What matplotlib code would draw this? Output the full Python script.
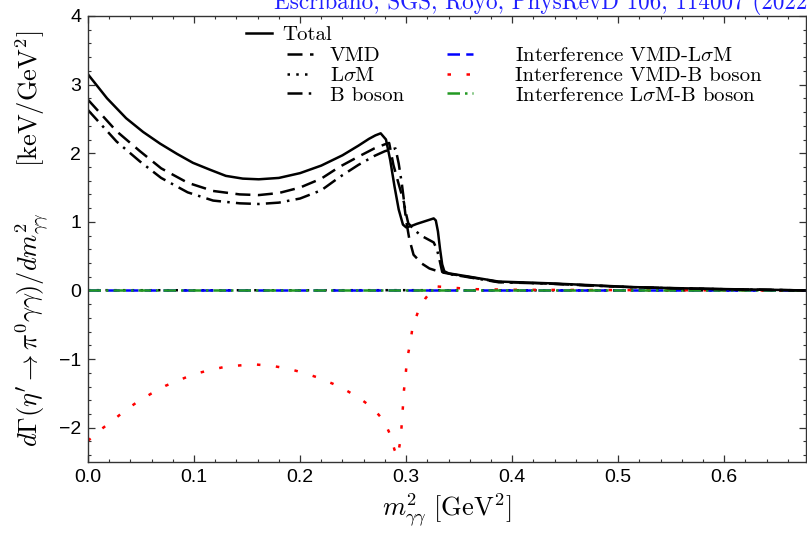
import matplotlib
matplotlib.use('Agg')
import matplotlib.pyplot as plt

plt.rcParams['font.family'] = 'Liberation Sans'
plt.rcParams['mathtext.fontset'] = 'cm'
plt.rcParams['axes.unicode_minus'] = True

# --- spectra dGamma/dm^2 [keV/GeV^2] vs m^2_gg [GeV^2] ---
x_total = [0.0, 0.018, 0.036, 0.052, 0.068, 0.084, 0.099, 0.115, 0.130, 0.146, 0.161,
           0.18, 0.20, 0.22, 0.24, 0.255, 0.265, 0.271, 0.276, 0.281, 0.285, 0.289,
           0.293, 0.297, 0.300, 0.305, 0.310, 0.316, 0.322, 0.326, 0.328, 0.330,
           0.332, 0.334, 0.336, 0.340, 0.356, 0.387, 0.434, 0.47, 0.512, 0.55,
           0.60, 0.65, 0.677]
y_total = [3.15, 2.80, 2.51, 2.31, 2.14, 1.99, 1.86, 1.76, 1.67, 1.63, 1.62,
           1.64, 1.71, 1.82, 1.97, 2.11, 2.21, 2.26, 2.29, 2.20, 1.90, 1.52,
           1.18, 0.96, 0.92, 0.94, 0.97, 1.00, 1.03, 1.05, 1.02, 0.86,
           0.60, 0.38, 0.28, 0.25, 0.21, 0.13, 0.105, 0.08, 0.05, 0.035,
           0.02, 0.008, 0.0]

x_vmd = [0.0, 0.027, 0.049, 0.069, 0.094, 0.118, 0.143, 0.161, 0.18, 0.20, 0.22,
         0.237, 0.255, 0.27, 0.28, 0.284, 0.288, 0.293, 0.298, 0.300, 0.303,
         0.307, 0.315, 0.322, 0.332, 0.340, 0.356, 0.387, 0.434, 0.47, 0.512,
         0.55, 0.60, 0.65, 0.677]
y_vmd = [2.78, 2.32, 2.03, 1.78, 1.57, 1.45, 1.40, 1.39, 1.42, 1.50, 1.63,
         1.80, 1.95, 2.07, 2.13, 2.15, 1.83, 1.55, 1.28, 1.02, 0.75,
         0.52, 0.39, 0.32, 0.27, 0.245, 0.205, 0.125, 0.10, 0.075, 0.048,
         0.033, 0.018, 0.007, 0.0]

x_b = [0.0, 0.027, 0.049, 0.069, 0.094, 0.118, 0.143, 0.161, 0.18, 0.20, 0.22,
       0.237, 0.255, 0.27, 0.28, 0.290, 0.293, 0.296, 0.299, 0.302, 0.308,
       0.314, 0.320, 0.326, 0.329, 0.331, 0.334, 0.340, 0.356, 0.387, 0.434,
       0.47, 0.512, 0.55, 0.60, 0.65, 0.677]
y_b = [2.63, 2.17, 1.88, 1.64, 1.43, 1.31, 1.27, 1.26, 1.28, 1.34, 1.46,
       1.65, 1.83, 1.96, 2.03, 2.07, 1.85, 1.55, 1.18, 0.98, 0.88,
       0.80, 0.75, 0.70, 0.60, 0.48, 0.27, 0.24, 0.20, 0.12, 0.10,
       0.075, 0.048, 0.033, 0.018, 0.007, 0.0]

x_lsm = [0.0, 0.1, 0.2, 0.3, 0.4, 0.5, 0.6, 0.677]
y_lsm = [0.004, 0.003, 0.003, 0.004, 0.002, 0.001, 0.001, 0.0]

x_int_vl = [0.0, 0.1, 0.2, 0.3, 0.4, 0.5, 0.6, 0.677]
y_int_vl = [0.0, 0.0, 0.0, 0.0, 0.0, 0.0, 0.0, 0.0]

x_int_vb = [0.0, 0.011, 0.023, 0.035, 0.047, 0.060, 0.073, 0.087, 0.100, 0.115,
            0.130, 0.145, 0.159, 0.174, 0.189, 0.203, 0.217, 0.231, 0.244, 0.257,
            0.269, 0.279, 0.285, 0.289, 0.292, 0.295, 0.296, 0.297, 0.298, 0.2995,
            0.301, 0.304, 0.306, 0.311, 0.318, 0.327, 0.337, 0.36, 0.40, 0.5,
            0.6, 0.677]
y_int_vb = [-2.19, -2.04, -1.90, -1.75, -1.62, -1.50, -1.39, -1.30, -1.22, -1.16,
            -1.11, -1.09, -1.08, -1.10, -1.14, -1.20, -1.27, -1.36, -1.46, -1.58,
            -1.72, -1.90, -2.10, -2.32, -2.42, -2.15, -1.91, -1.69, -1.45, -1.23,
            -0.99, -0.76, -0.54, -0.32, -0.12, 0.06, 0.05, 0.02, 0.01, 0.005,
            0.002, 0.0]

x_int_lb = [0.0, 0.1, 0.2, 0.3, 0.4, 0.5, 0.6, 0.677]
y_int_lb = [0.0, 0.0, 0.0, 0.0, 0.0, 0.0, 0.0, 0.0]

fig = plt.figure(figsize=(8.07, 5.33), dpi=100)
ax = fig.add_axes([0.109, 0.1332, 0.8897, 0.8368])

lw = 1.8
l_lsm, = ax.plot(x_lsm, y_lsm, color='black', lw=lw, linestyle=(0, (1, 2.5)), label=r'L$\sigma$M')
l_vl, = ax.plot(x_int_vl, y_int_vl, color='#0000ff', lw=lw, linestyle=(0, (5, 2.5)),
                label=r'Interference VMD-L$\sigma$M')
l_vb, = ax.plot(x_int_vb, y_int_vb, color='#ff0000', lw=lw, linestyle=(0, (1.4, 6.2)),
                label='Interference VMD-B boson')
l_lb, = ax.plot(x_int_lb, y_int_lb, color='#229922', lw=lw, linestyle=(0, (5, 2, 1, 2)),
                label=r'Interference L$\sigma$M-B boson')
l_b, = ax.plot(x_b, y_b, color='black', lw=lw, linestyle=(0, (6, 2.5, 1, 2.5)), label='B boson')
l_vmd, = ax.plot(x_vmd, y_vmd, color='black', lw=lw, linestyle=(0, (6, 3)), label='VMD')
l_tot, = ax.plot(x_total, y_total, color='black', lw=lw, label='Total')

ax.set_xlim(0, 0.677)
ax.set_ylim(-2.5, 4)
ax.set_xticks([0.0, 0.1, 0.2, 0.3, 0.4, 0.5, 0.6])
ax.set_xticklabels(['0.0', '0.1', '0.2', '0.3', '0.4', '0.5', '0.6'])
ax.set_yticks([-2, -1, 0, 1, 2, 3, 4])
ax.set_xticks([i * 0.02 for i in range(34)], minor=True)
ax.set_yticks([-2.4 + i * 0.2 for i in range(33)], minor=True)
ax.tick_params(which='both', direction='in', top=True, right=True, color='#333333', labelsize=14)
ax.tick_params(which='major', length=5, width=0.9, pad=5)
ax.tick_params(which='minor', length=2.5, width=0.8)
for s in ax.spines.values():
    s.set_linewidth(1.0)
    s.set_color('#333333')

ax.set_xlabel(r'$m^2_{\gamma\gamma}\ [\mathrm{GeV}^2]$', fontsize=19, labelpad=4)
ax.set_ylabel(r'$d\Gamma(\eta^{\prime}\rightarrow\pi^0\gamma\gamma)/dm^2_{\gamma\gamma}\qquad[\mathrm{keV}/\mathrm{GeV}^2]$',
              fontsize=19, labelpad=6)

legprops = {'family': 'cmr10', 'size': 15}
leg_tot = ax.legend([l_tot], ['Total'], loc='upper left', bbox_to_anchor=(0.220, 0.978),
                    frameon=False, prop=legprops, borderpad=0, borderaxespad=0,
                    handlelength=1.25, handletextpad=0.5)
ax.add_artist(leg_tot)
leg_c1 = ax.legend([l_vmd, l_lsm, l_b], ['VMD', r'L$\sigma$M', 'B boson'], loc='upper left',
                   bbox_to_anchor=(0.277, 0.931), frameon=False, prop=legprops, borderpad=0,
                   borderaxespad=0, handlelength=1.25, handletextpad=0.8, labelspacing=0.05)
ax.add_artist(leg_c1)
ax.legend([l_vl, l_vb, l_lb],
          [r'Interference VMD-L$\sigma$M', 'Interference VMD-B boson', r'Interference L$\sigma$M-B boson'],
          loc='upper left', bbox_to_anchor=(0.500, 0.931), frameon=False, prop=legprops, borderpad=0,
          borderaxespad=0, handlelength=1.25, handletextpad=2.0, labelspacing=0.05)

fig.text(274 / 807, 1 - 9 / 533, 'Escribano, SGS, Royo, PhysRevD 106, 114007 (2022)',
         color='#1f1fff', fontsize=16.7, family='cmr10', va='baseline', ha='left')

fig.savefig('out.png', dpi=100)
